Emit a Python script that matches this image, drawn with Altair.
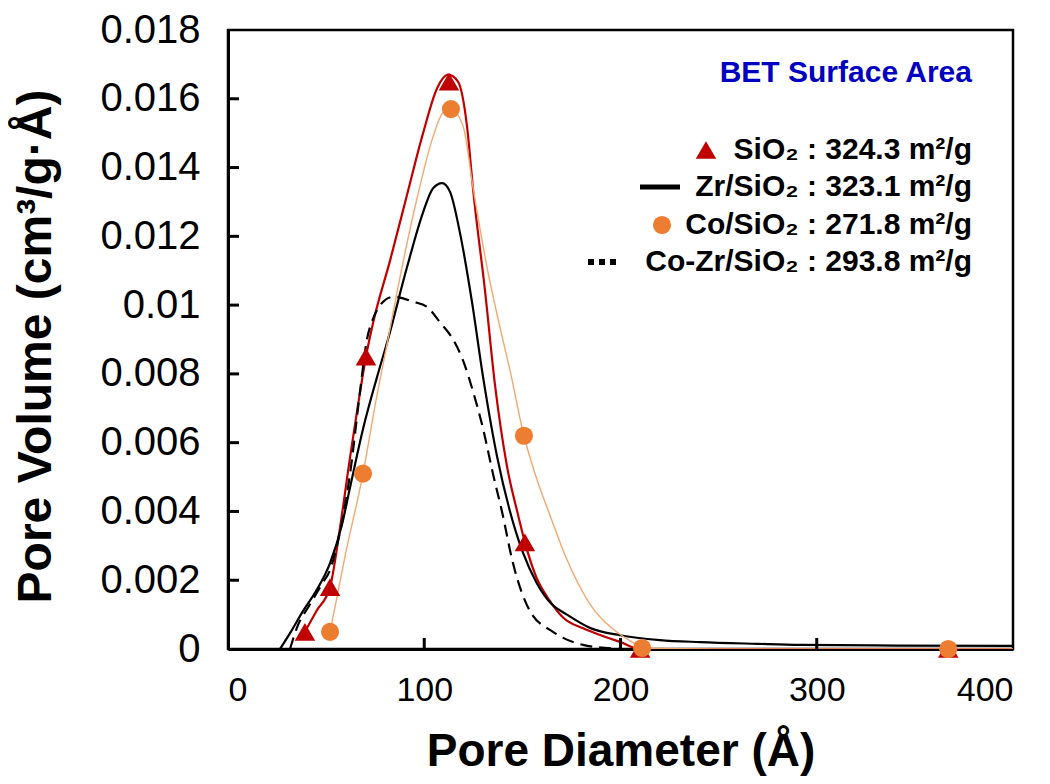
import altair as alt
import pandas as pd

# ---------------- data ----------------
# SiO2 (red smooth line + triangles)
sio2_curve_x = [39.2, 45, 52, 57, 62, 66, 70.3, 74, 82.6, 91.2, 99.4, 106.5, 112.1, 117.2, 121.8, 125,
                131, 136, 142.2, 147.8, 151.3, 157, 164, 171, 181, 190, 200, 210, 250, 300, 367, 400]
sio2_curve_y = [0.0005, 0.0011, 0.0018, 0.0035, 0.0055, 0.0070, 0.0085, 0.0095, 0.0113, 0.0132, 0.0150,
                0.0163, 0.0167, 0.0165, 0.0152, 0.0133, 0.0104, 0.0077, 0.0053, 0.0039, 0.0031, 0.0021,
                0.0014, 0.0009, 0.0006, 0.0004, 0.0002, 0, 0, 0, 0, 0]
sio2_pts_x = [39.2, 52, 70.3, 112.6, 151.3, 210, 367]
sio2_pts_y = [0.0005, 0.0018, 0.0085, 0.0165, 0.0031, 0, 0]

# Zr/SiO2 (black solid line)
zr_x = [26.5, 32, 38.2, 45, 52, 58, 62.2, 68.8, 75.9, 81.5, 91.2, 99.4, 104.5, 109.1, 113.1, 118.2, 124.3,
        130, 137.1, 143.7, 150.3, 157.5, 165, 172.7, 185, 199.8, 220, 240.5, 270, 291.5, 340, 400]
zr_y = [0, 0.0005, 0.0011, 0.0017, 0.0025, 0.0036, 0.0047, 0.0064, 0.0079, 0.0090, 0.0111, 0.0127,
        0.0134, 0.01355, 0.0133, 0.0121, 0.0101, 0.0079, 0.0056, 0.0040, 0.0028, 0.0019, 0.0013, 0.0010,
        0.0006, 0.0004, 0.00026, 0.0002, 0.00015, 0.00012, 0.0001, 0.00009]

# Co/SiO2 (thin orange line + circles)
co_curve_x = [52, 60, 68.8, 75, 81.5, 87.6, 96.3, 104.5, 109.6, 113.6, 119.8, 124.9, 132, 138, 143.7,
              150.8, 157, 164, 172.7, 184.5, 198, 206, 211, 250, 300, 367, 400]
co_curve_y = [0.0005, 0.0028, 0.0051, 0.0071, 0.0090, 0.0108, 0.0131, 0.0149, 0.0156, 0.0157, 0.0152,
              0.0134, 0.0111, 0.0095, 0.0081, 0.0062, 0.0050, 0.0039, 0.0026, 0.0013, 0.0005, 0.0002,
              0.00003, 0, 0, 0, 0]
co_pts_x = [52, 68.8, 113.6, 150.8, 211, 367]
co_pts_y = [0.0005, 0.0051, 0.0157, 0.0062, 0.00003, 0]

# Co-Zr/SiO2 (black dashed line)
cozr_x = [31.6, 35, 41.8, 48, 52, 55.5, 62.2, 67.3, 70.8, 73.9, 77.5, 84.1, 94.3, 101.4, 108, 114.7,
          119.7, 124.8, 130, 135, 139.6, 145.2, 153.9, 165.6, 180.9, 200]
cozr_y = [0.0, 0.0006, 0.0013, 0.0019, 0.0023, 0.0030, 0.0051, 0.0075, 0.0090, 0.0096, 0.0100, 0.01024,
          0.0101, 0.00995, 0.0095, 0.0090, 0.0084, 0.0075, 0.0064, 0.0051, 0.0040, 0.0025, 0.0011,
          0.0005, 0.00012, 0]

x_ticks = [0, 100, 200, 300, 400]
y_ticks = [0, 0.002, 0.004, 0.006, 0.008, 0.010, 0.012, 0.014, 0.016, 0.018]

legend_title = "BET Surface Area"
legend_labels = ["SiO₂ : 324.3 m²/g", "Zr/SiO₂ : 323.1 m²/g",
                 "Co/SiO₂ : 271.8 m²/g", "Co-Zr/SiO₂ : 293.8 m²/g"]

x_title = "Pore Diameter (Å)"
y_title = "Pore Volume (cm³/g·Å)"

# ---------------- styling ----------------
FONT = "Liberation Sans, Arial, Helvetica, sans-serif"
RED = "#C00000"
ORANGE = "#ED7D31"
ORANGE_LINE = "#F4A870"
W, H = 785, 619

x_scale = alt.Scale(domain=[0, 400], nice=False, zero=False)
y_scale = alt.Scale(domain=[0, 0.018], nice=False, zero=False)

x_axis = alt.Axis(values=x_ticks, title=x_title, ticks=False, grid=False,
                  labelFont=FONT, labelFontSize=34, labelPadding=24, labelColor="black",
                  titleFont=FONT, titleFontSize=46, titleFontWeight="bold", titleColor="black",
                  titleX=W / 2, titleY=116, titleBaseline="alphabetic", titleAlign="center",
                  domainColor="black", domainWidth=3)
y_axis = alt.Axis(values=y_ticks, format="~g", title=y_title, ticks=False, grid=False,
                  labelFont=FONT, labelFontSize=40, labelPadding=28, labelColor="black",
                  titleFont=FONT, titleFontSize=48, titleFontWeight="bold", titleColor="black",
                  titleX=-178, titleY=316, titleAngle=-90, titleBaseline="alphabetic",
                  titleAlign="center", domainColor="black", domainWidth=3)


def xy_df(xs, ys):
    return pd.DataFrame({"x": xs, "y": ys})


def enc(chart):
    return chart.encode(x=alt.X("x:Q", scale=x_scale, axis=x_axis),
                        y=alt.Y("y:Q", scale=y_scale, axis=y_axis))


red_line = enc(alt.Chart(xy_df(sio2_curve_x, sio2_curve_y)).mark_line(
    color=RED, strokeWidth=2.2, interpolate="monotone", clip=True))
zr_line = enc(alt.Chart(xy_df(zr_x, zr_y)).mark_line(
    color="black", strokeWidth=2.2, interpolate="monotone", clip=True))
cozr_line = enc(alt.Chart(xy_df(cozr_x, cozr_y)).mark_line(
    color="black", strokeWidth=2.2, strokeDash=[12, 7], interpolate="monotone", clip=True))
co_line = enc(alt.Chart(xy_df(co_curve_x, co_curve_y)).mark_line(
    color=ORANGE_LINE, strokeWidth=1.4, interpolate="monotone", clip=True))

tri_pts = enc(alt.Chart(xy_df(sio2_pts_x, sio2_pts_y)).mark_point(
    shape="triangle-up", filled=True, size=420, color=RED, opacity=1))
circ_pts = enc(alt.Chart(xy_df(co_pts_x, co_pts_y)).mark_point(
    shape="circle", filled=True, size=330, color=ORANGE, opacity=1))

# inward ticks
y_tick_marks = alt.Chart(pd.DataFrame({"y": y_ticks[1:-1]})).mark_rule(
    color="black", strokeWidth=3).encode(
    y=alt.Y("y:Q", scale=y_scale, axis=y_axis), x=alt.value(0), x2=alt.value(11))
x_tick_marks = alt.Chart(pd.DataFrame({"x": x_ticks[1:-1]})).mark_rule(
    color="black", strokeWidth=3).encode(
    x=alt.X("x:Q", scale=x_scale, axis=x_axis), y=alt.value(H), y2=alt.value(H - 11))

# legend (annotation)
one = pd.DataFrame({"k": [0]})
leg_title = alt.Chart(pd.DataFrame({"t": [legend_title]})).mark_text(
    font=FONT, fontSize=30, fontWeight="bold", color="#0000C0", align="right", baseline="middle"
).encode(text="t:N", x=alt.value(744), y=alt.value(43))

leg_rows_y = [120, 157, 195, 232]
leg_texts = [
    alt.Chart(pd.DataFrame({"t": [lab]})).mark_text(
        font=FONT, fontSize=30, fontWeight="bold", color="black", align="right", baseline="middle"
    ).encode(text="t:N", x=alt.value(744), y=alt.value(yy))
    for lab, yy in zip(legend_labels, leg_rows_y)
]
leg_tri = alt.Chart(one).mark_point(shape="triangle-up", filled=True, size=420, color=RED,
                                    opacity=1).encode(x=alt.value(478), y=alt.value(120))
leg_solid = alt.Chart(one).mark_rule(color="black", strokeWidth=5).encode(
    x=alt.value(412), x2=alt.value(452), y=alt.value(157))
leg_circ = alt.Chart(one).mark_point(shape="circle", filled=True, size=330, color=ORANGE,
                                     opacity=1).encode(x=alt.value(434), y=alt.value(195))
leg_dots = alt.Chart(one).mark_rule(color="black", strokeWidth=6, strokeDash=[6, 5]).encode(
    x=alt.value(360), x2=alt.value(388), y=alt.value(232))

chart = alt.layer(
    red_line, zr_line, cozr_line, co_line, tri_pts, circ_pts,
    y_tick_marks, x_tick_marks,
    leg_title, *leg_texts, leg_tri, leg_solid, leg_circ, leg_dots
).properties(
    width=W, height=H,
    autosize=alt.AutoSizeParams(type="none"),
    padding={"left": 220, "top": 22, "right": 29, "bottom": 127},
    background="white",
).configure_view(stroke="black", strokeWidth=2.5)

chart.save("out.html", embed_options={"renderer": "svg", "actions": False})
